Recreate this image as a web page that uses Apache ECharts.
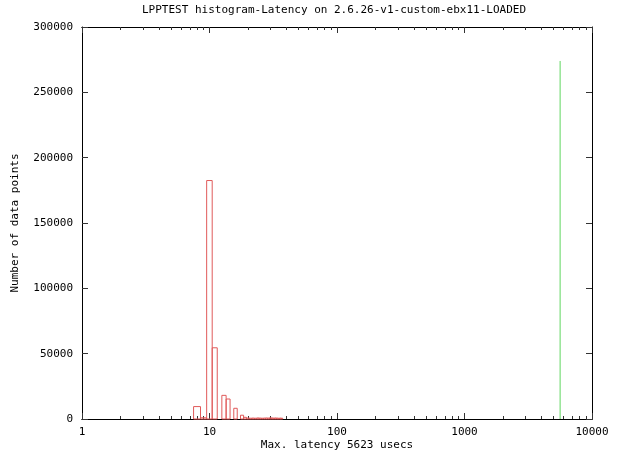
<!DOCTYPE html>
<html>
<head>
<meta charset="utf-8">
<script src="https://cdn.jsdelivr.net/npm/echarts@6/dist/echarts.min.js"></script>
<style>
html,body{margin:0;padding:0;background:#fff;}
#c{width:624px;height:456px;}
</style>
</head>
<body>
<div id="c"></div>
<script>
// Histogram bins (latency in usecs, centre of bin) and counts
var latencyBins = [8, 9, 10, 11, 13, 14, 16, 17, 18, 19, 20, 21, 22, 23, 24, 25, 26, 27, 28, 29, 30, 31, 32, 33, 34, 35, 36, 37];
var binCounts   = [9500, 900, 182500, 54500, 18100, 15300, 8200, 0, 2900, 1300, 700, 600, 700, 600, 800, 700, 600, 700, 800, 700, 900, 800, 700, 800, 700, 600, 700, 600];
// Max latency marker
var maxLatency = [5623];
var maxLatencyHeight = [274000];
// Axis ticks
var xMajorTicks = [1, 10, 100, 1000, 10000];
var xMinorTicks = [2,3,4,5,6,7,8,9,20,30,40,50,60,70,80,90,200,300,400,500,600,700,800,900,2000,3000,4000,5000,6000,7000,8000,9000];
var yTicks = [0, 50000, 100000, 150000, 200000, 250000, 300000];

var FONT = '"DejaVu Sans Mono", monospace';
var histData = latencyBins.map(function (b, i) { return [b, binCounts[i]]; });
var maxData = [[maxLatency[0], 0], [maxLatency[0], maxLatencyHeight[0]]];

var chart = echarts.init(document.getElementById('c'), null, {renderer: 'canvas'});

function logAxis(pos, showLabel, ticks, len, name) {
  var ax = {
    type: 'log', logBase: 10, min: 1, max: 10000, position: pos,
    axisLine: {show: true, onZero: false, lineStyle: {color: '#000', width: 1}},
    splitLine: {show: false},
    axisTick: {show: true, inside: true, length: len, customValues: ticks, lineStyle: {color: '#333'}},
    axisLabel: {show: showLabel, customValues: showLabel ? xMajorTicks : undefined,
      fontFamily: FONT, fontSize: 11, color: '#000', margin: 8,
      formatter: function (v) { return String(Math.round(v)); }},
    minorTick: {show: false}
  };
  if (name) {
    ax.name = name; ax.nameLocation = 'middle'; ax.nameGap = 21; ax.nameMoveOverlap = false;
    ax.nameTextStyle = {fontFamily: FONT, fontSize: 11, color: '#000'};
  }
  return ax;
}

function valAxis(pos, showLabel, name) {
  var ax = {
    type: 'value', min: 0, max: 300000, interval: 50000, position: pos,
    axisLine: {show: true, lineStyle: {color: '#000', width: 1}},
    splitLine: {show: false},
    axisTick: {show: true, inside: true, length: 6, customValues: yTicks, lineStyle: {color: '#333'}},
    axisLabel: {show: showLabel, customValues: showLabel ? yTicks : undefined,
      fontFamily: FONT, fontSize: 11, color: '#000', margin: 9,
      formatter: function (v) { return String(v); }}
  };
  if (name) {
    ax.name = name; ax.nameLocation = 'middle'; ax.nameGap = 61; ax.nameRotate = 90; ax.nameMoveOverlap = false;
    ax.nameTextStyle = {fontFamily: FONT, fontSize: 11, color: '#000'};
  }
  return ax;
}

chart.setOption({
  animation: false,
  backgroundColor: '#fff',
  title: {
    text: 'LPPTEST histogram-Latency on 2.6.26-v1-custom-ebx11-LOADED',
    left: 334, textAlign: 'center', top: 5, padding: 0,
    textStyle: {fontFamily: FONT, fontSize: 11, fontWeight: 'normal', color: '#000'}
  },
  grid: {left: 82, right: 32, top: 27, bottom: 37, containLabel: false, outerBoundsMode: 'none'},
  xAxis: [
    logAxis('bottom', true, xMajorTicks, 6, 'Max. latency 5623 usecs'),
    logAxis('bottom', false, xMinorTicks, 3),
    logAxis('top', false, xMajorTicks, 6),
    logAxis('top', false, xMinorTicks, 3)
  ],
  yAxis: [
    valAxis('left', true, 'Number of data points'),
    valAxis('right', false)
  ],
  series: [
    {
      type: 'custom',
      xAxisIndex: 0, yAxisIndex: 0,
      data: histData,
      renderItem: function (params, api) {
        var c = api.value(0), v = api.value(1);
        if (!v) return null;
        var p0 = api.coord([c - 0.5, v]);
        var p1 = api.coord([c + 0.5, 0]);
        return {
          type: 'rect',
          shape: {x: p0[0], y: p0[1], width: p1[0] - p0[0], height: p1[1] - p0[1]},
          style: {fill: null, stroke: '#e05a5a', lineWidth: 1}
        };
      },
      silent: true
    },
    {
      type: 'line',
      xAxisIndex: 0, yAxisIndex: 0,
      data: maxData,
      symbol: 'none',
      lineStyle: {color: '#5fd65f', width: 1},
      silent: true
    }
  ]
});
</script>
</body>
</html>
